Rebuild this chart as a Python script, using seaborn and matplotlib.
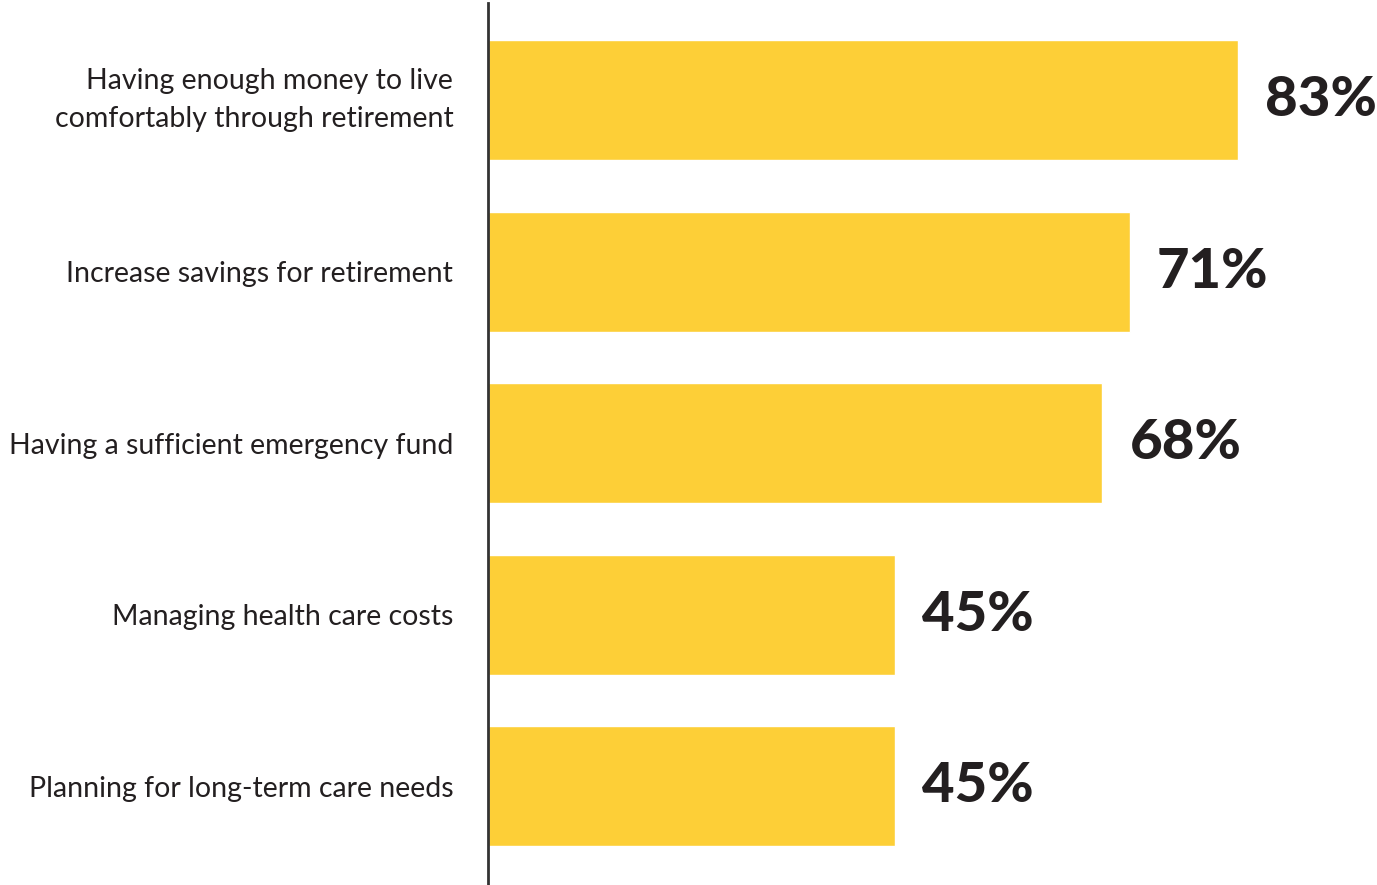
import matplotlib
matplotlib.use("Agg")
import matplotlib.pyplot as plt
import seaborn as sns
import pandas as pd

categories = [
    "Having enough money to live\ncomfortably through retirement",
    "Increase savings for retirement",
    "Having a sufficient emergency fund",
    "Managing health care costs",
    "Planning for long-term care needs",
]
values = [83, 71, 68, 45, 45]
value_labels = ["83%", "71%", "68%", "45%", "45%"]

df = pd.DataFrame({"category": categories, "value": values})

sns.set_theme(style="white")
plt.rcParams["font.family"] = ["Lato", "DejaVu Sans"]

W, H = 1377, 885
fig = plt.figure(figsize=(W / 100, H / 100), dpi=100)
ax = fig.add_axes([488 / W, 0, (W - 488) / W, (H - 3) / H])

sns.barplot(data=df, y="category", x="value", orient="h", color="#FDCF37",
            saturation=1, width=0.70, ax=ax)

px_per_unit = 750 / 83
ax.set_xlim(0, (W - 488) / px_per_unit)
ax.set_ylim(4.577, -0.566)

for spine in ["top", "right", "bottom"]:
    ax.spines[spine].set_visible(False)
ax.spines["left"].set_color("#333333")
ax.spines["left"].set_linewidth(2)

ax.set_xticks([])
ax.set_xlabel("")
ax.set_ylabel("")
ax.tick_params(axis="y", length=0, pad=25)
for lbl in ax.get_yticklabels():
    lbl.set_fontsize(20.5)
    lbl.set_color("#231F20")
    lbl.set_horizontalalignment("right")
    lbl.set_linespacing(1.55)
    if "\n" in lbl.get_text():
        lbl.set_verticalalignment("center")

offset = 27 / px_per_unit
for i, (v, t) in enumerate(zip(values, value_labels)):
    ax.text(v + offset, i, t, ha="left", va="center", fontsize=40.5,
            fontweight="black", color="#231F20")

fig.savefig("out.png", dpi=100)
